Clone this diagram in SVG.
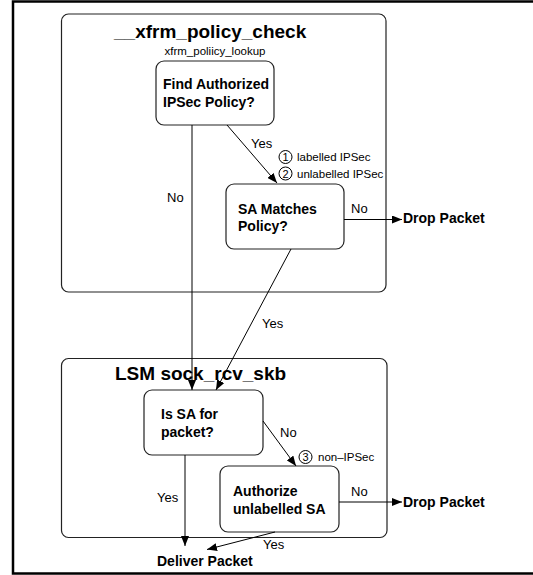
<svg xmlns="http://www.w3.org/2000/svg" width="533" height="575" viewBox="0 0 533 575">
<defs>
<marker id="ah" viewBox="0 0 10 8" refX="10" refY="4" markerWidth="10" markerHeight="8" markerUnits="userSpaceOnUse" orient="auto">
<path d="M0,0 L10,4 L0,8 Z" fill="#000"/>
</marker>
</defs>
<style>
.frame{fill:none;stroke:#000;stroke-width:2.5}
.group{fill:none;stroke:#222;stroke-width:1.2}
.node{fill:#fff;stroke:#222;stroke-width:1.2}
.edge{fill:none;stroke:#000;stroke-width:1}
.arrow{marker-end:url(#ah)}
.title{font-family:"Liberation Sans",Arial,sans-serif;font-weight:bold;font-size:19px;fill:#000}
.ntext{font-family:"Liberation Sans",Arial,sans-serif;font-weight:bold;font-size:14px;fill:#000}
.lbl{font-family:"Liberation Sans",Arial,sans-serif;font-size:13px;fill:#000}
.small{font-family:"Liberation Sans",Arial,sans-serif;font-size:11.5px;fill:#000}
.num{font-family:"Liberation Sans",Arial,sans-serif;font-size:11px;fill:#000;text-anchor:middle}
.circ{fill:none;stroke:#000;stroke-width:1}
</style>
<rect width="533" height="575" fill="#fff"/>
<path class="frame" d="M540,1.5 H13 V573.5 H540"/>

<g id="xfrm_policy_check">
<rect class="group" x="61.5" y="14" width="324.5" height="278" rx="7"/>
<text class="title" x="114" y="38">__xfrm_policy_check</text>
<text class="small" x="215" y="55" text-anchor="middle">xfrm_poliicy_lookup</text>
</g>

<g id="lsm_sock_rcv_skb">
<rect class="group" x="61.5" y="358.5" width="325.5" height="179" rx="7"/>
<text class="title" x="115" y="380">LSM sock_rcv_skb</text>
</g>

<g id="find_policy">
<rect class="node" x="156" y="61" width="118" height="64" rx="8"/>
<text class="ntext" x="163" y="89">Find Authorized</text>
<text class="ntext" x="163" y="107">IPSec Policy?</text>
</g>

<g id="sa_matches">
<rect class="node" x="226" y="184" width="118" height="65" rx="8"/>
<text class="ntext" x="238" y="214">SA Matches</text>
<text class="ntext" x="238" y="231">Policy?</text>
</g>

<g id="is_sa">
<rect class="node" x="144" y="390" width="119" height="65" rx="8"/>
<text class="ntext" x="161" y="419">Is SA for</text>
<text class="ntext" x="161" y="437">packet?</text>
</g>

<g id="authorize">
<rect class="node" x="220" y="466" width="119" height="66" rx="8"/>
<text class="ntext" x="233" y="496">Authorize</text>
<text class="ntext" x="233" y="514">unlabelled SA</text>
</g>

<g id="drop1">
<text class="ntext" x="403" y="223">Drop Packet</text>
</g>
<g id="drop2">
<text class="ntext" x="403" y="507">Drop Packet</text>
</g>
<g id="deliver">
<text class="ntext" x="157" y="566">Deliver Packet</text>
</g>

<g id="connectors">
<line class="edge arrow" x1="227" y1="125" x2="277" y2="183"/>
<line class="edge arrow" x1="192" y1="125" x2="192" y2="390"/>
<line class="edge arrow" x1="344" y1="219.5" x2="402" y2="219.5"/>
<line class="edge arrow" x1="291" y1="249" x2="216" y2="390"/>
<line class="edge arrow" x1="263" y1="421" x2="296" y2="466"/>
<line class="edge arrow" x1="185" y1="455" x2="185" y2="546"/>
<line class="edge arrow" x1="339" y1="502" x2="402" y2="502"/>
<line class="edge arrow" x1="275" y1="532" x2="207" y2="549.5"/>
</g>

<g id="labels">
<text class="lbl" x="251" y="148">Yes</text>
<text class="lbl" x="167" y="202">No</text>
<text class="lbl" x="351" y="213">No</text>
<text class="lbl" x="262" y="328">Yes</text>
<text class="lbl" x="280" y="437">No</text>
<text class="lbl" x="157" y="502">Yes</text>
<text class="lbl" x="351" y="496">No</text>
<text class="lbl" x="263" y="549">Yes</text>
</g>

<g id="notes">
<circle class="circ" cx="285.5" cy="157" r="6.5"/>
<text class="num" x="285.5" y="161">1</text>
<text class="small" x="297" y="161">labelled IPSec</text>
<circle class="circ" cx="285.5" cy="173.5" r="6.5"/>
<text class="num" x="285.5" y="177.5">2</text>
<text class="small" x="297" y="178">unlabelled IPSec</text>
<circle class="circ" cx="305.5" cy="457" r="6.5"/>
<text class="num" x="305.5" y="461">3</text>
<text class="small" x="318" y="461">non–IPSec</text>
</g>
</svg>
